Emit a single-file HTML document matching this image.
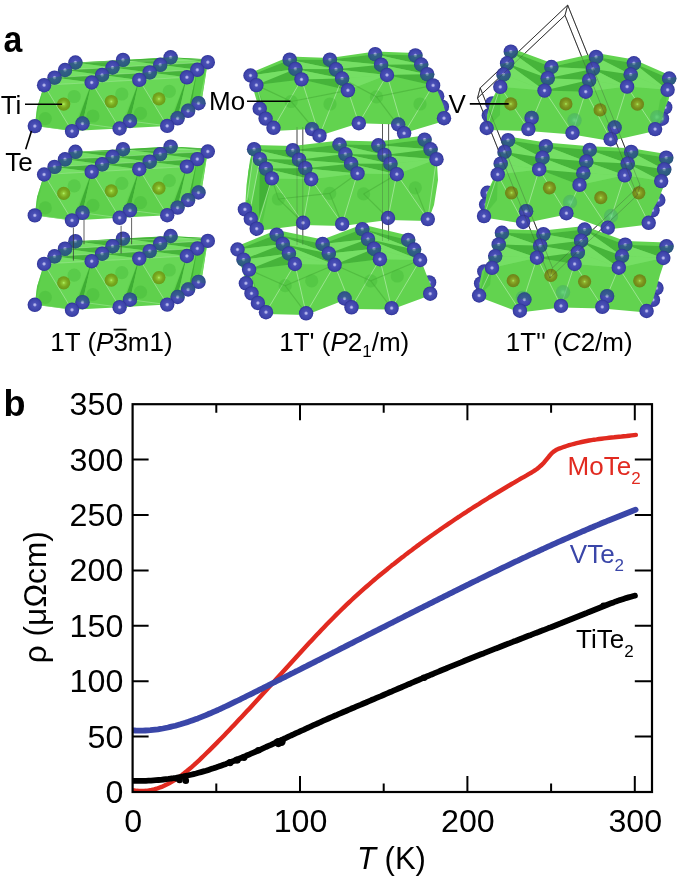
<!DOCTYPE html>
<html><head><meta charset="utf-8"><style>
html,body{margin:0;padding:0;background:#fff;}
svg{display:block;will-change:transform;}
</style></head><body>
<svg width="685" height="878" viewBox="0 0 685 878">
<rect width="685" height="878" fill="#fff"/>
<defs>
<radialGradient id="gte" cx="0.5" cy="0.5" r="0.5">
<stop offset="0" stop-color="#c8c8f4"/><stop offset="0.14" stop-color="#a4a6e4"/><stop offset="0.3" stop-color="#4a50b6"/>
<stop offset="0.8" stop-color="#3d43aa"/><stop offset="1" stop-color="#2e3296"/></radialGradient>
<linearGradient id="gsb" x1="0" y1="0" x2="0.15" y2="1">
<stop offset="0.5" stop-color="#1f6e5e" stop-opacity="0"/><stop offset="0.56" stop-color="#1f6e5e" stop-opacity="0.5"/>
<stop offset="1" stop-color="#1f6e5e" stop-opacity="0.6"/></linearGradient>
<linearGradient id="gst" x1="0.2" y1="0" x2="0" y2="1">
<stop offset="0" stop-color="#1f6e5e" stop-opacity="0.45"/><stop offset="0.4" stop-color="#1f6e5e" stop-opacity="0.35"/>
<stop offset="0.5" stop-color="#1f6e5e" stop-opacity="0"/></linearGradient>
<radialGradient id="gti" cx="0.5" cy="0.5" r="0.5">
<stop offset="0" stop-color="#b4f46c"/><stop offset="0.22" stop-color="#8ec832"/><stop offset="0.6" stop-color="#78a81e"/>
<stop offset="1" stop-color="#6a9a18"/></radialGradient>
<radialGradient id="gv" cx="0.5" cy="0.5" r="0.5">
<stop offset="0" stop-color="#a8ee5c"/><stop offset="0.22" stop-color="#8cae2c"/><stop offset="0.6" stop-color="#7a921c"/>
<stop offset="1" stop-color="#6c8418"/></radialGradient>
<radialGradient id="gtt" cx="0.5" cy="0.5" r="0.5">
<stop offset="0" stop-color="#6fd89a"/><stop offset="0.4" stop-color="#4cb47a"/><stop offset="1" stop-color="#4aae60"/></radialGradient>
<g id="te"><circle r="7.2" fill="url(#gte)"/></g>
<g id="teb"><circle r="7.2" fill="url(#gte)"/><circle r="7.2" fill="url(#gsb)"/></g>
<g id="tet"><circle r="7.2" fill="url(#gte)"/><circle r="7.2" fill="url(#gst)"/></g>
<g id="ti"><circle r="6.6" fill="url(#gti)"/></g>
<g id="hid"><circle r="6.6" fill="#3fb535" opacity="0.35"/></g>
<g id="tth"><circle r="7.2" fill="url(#gtt)" opacity="0.6"/></g>
<g id="v"><circle r="6.6" fill="url(#gv)"/></g>
</defs>
<g transform="translate(0.0,0.0)">
<clipPath id="cl1"><polygon points="44.1,85.2 75.4,62.5 123.0,59.9 170.6,57.3 211.5,59.5 207.8,62.2 205.0,80.0 202.0,99.0 198.5,103.2 188.1,110.8 177.6,118.3 167.2,125.9 119.6,128.5 72.0,131.1 34.8,126.1 37.0,108.0"/></clipPath>
<polygon points="44.1,85.2 75.4,62.5 123.0,59.9 170.6,57.3 211.5,59.5 207.8,62.2 205.0,80.0 202.0,99.0 198.5,103.2 188.1,110.8 177.6,118.3 167.2,125.9 119.6,128.5 72.0,131.1 34.8,126.1 37.0,108.0" fill="#62d34f"/>
<g clip-path="url(#cl1)">
<polygon points="75.4,62.5 123.0,59.9 170.6,57.3 211.5,59.5 186.9,77.3 139.3,79.9 91.7,82.5 44.1,85.2" fill="#6cd95b"/>
<polygon points="75.4,62.5 123.0,59.9 112.5,67.5" fill="#3ba931" opacity="0.78"/>
<polygon points="75.4,62.5 65.0,70.0 112.5,67.5" fill="#79e168" opacity="0.70"/>
<polygon points="65.0,70.0 112.5,67.5 102.1,75.0" fill="#3ba931" opacity="0.78"/>
<polygon points="65.0,70.0 54.5,77.6 102.1,75.0" fill="#79e168" opacity="0.70"/>
<polygon points="54.5,77.6 102.1,75.0 91.7,82.5" fill="#3ba931" opacity="0.78"/>
<polygon points="54.5,77.6 44.1,85.2 91.7,82.5" fill="#79e168" opacity="0.70"/>
<polygon points="123.0,59.9 170.6,57.3 160.2,64.8" fill="#3ba931" opacity="0.78"/>
<polygon points="123.0,59.9 112.5,67.5 160.2,64.8" fill="#79e168" opacity="0.70"/>
<polygon points="112.5,67.5 160.2,64.8 149.7,72.4" fill="#3ba931" opacity="0.78"/>
<polygon points="112.5,67.5 102.1,75.0 149.7,72.4" fill="#79e168" opacity="0.70"/>
<polygon points="102.1,75.0 149.7,72.4 139.3,79.9" fill="#3ba931" opacity="0.78"/>
<polygon points="102.1,75.0 91.7,82.5 139.3,79.9" fill="#79e168" opacity="0.70"/>
<polygon points="170.6,57.3 211.5,59.5 207.8,62.2" fill="#3ba931" opacity="0.78"/>
<polygon points="170.6,57.3 160.2,64.8 207.8,62.2" fill="#79e168" opacity="0.70"/>
<polygon points="160.2,64.8 207.8,62.2 197.3,69.8" fill="#3ba931" opacity="0.78"/>
<polygon points="160.2,64.8 149.7,72.4 197.3,69.8" fill="#79e168" opacity="0.70"/>
<polygon points="149.7,72.4 197.3,69.8 186.9,77.3" fill="#3ba931" opacity="0.78"/>
<polygon points="149.7,72.4 139.3,79.9 186.9,77.3" fill="#79e168" opacity="0.70"/>
<polygon points="44.1,85.2 91.7,82.5 72.0,131.1" fill="#68d756"/>
<polygon points="44.1,85.2 72.0,131.1 34.8,126.1" fill="#5fd04c"/>
<polygon points="91.7,82.5 74.5,130.1 82.5,123.5" fill="#3ba931" opacity="0.90"/>
<polygon points="91.7,82.5 139.3,79.9 119.6,128.5" fill="#68d756"/>
<polygon points="91.7,82.5 119.6,128.5 82.5,123.5" fill="#5fd04c"/>
<polygon points="139.3,79.9 122.1,127.5 130.0,121.0" fill="#3ba931" opacity="0.90"/>
<polygon points="139.3,79.9 186.9,77.3 167.2,125.9" fill="#68d756"/>
<polygon points="139.3,79.9 167.2,125.9 130.0,121.0" fill="#5fd04c"/>
<polygon points="186.9,77.3 169.7,124.9 177.6,118.3" fill="#3ba931" opacity="0.90"/>
<polygon points="44.1,85.2 34.8,126.1 36.0,112.0 39.0,96.0" fill="#4fc341" opacity="0.70"/>
<polygon points="186.9,77.3 197.3,69.8 188.1,110.8 177.6,118.3" fill="#6ad858"/>
<polygon points="197.3,69.8 207.8,62.2 198.5,103.2 188.1,110.8" fill="#58cc47"/>
<polygon points="197.3,69.8 188.1,110.8 191.1,106.8" fill="#3ba931" opacity="0.80"/>
<polygon points="207.8,62.2 205.0,80.0 202.0,99.0 198.5,103.2" fill="#72dc60"/>
<polyline points="44.1,85.2 72.0,131.1" fill="none" stroke="#f0fff0" stroke-width="0.8" opacity="0.45"/>
<polyline points="34.8,126.1 72.0,131.1" fill="none" stroke="#f0fff0" stroke-width="0.8" opacity="0.35"/>
<polyline points="91.7,82.5 119.6,128.5" fill="none" stroke="#f0fff0" stroke-width="0.8" opacity="0.45"/>
<polyline points="82.5,123.5 119.6,128.5" fill="none" stroke="#f0fff0" stroke-width="0.8" opacity="0.35"/>
<polyline points="139.3,79.9 167.2,125.9" fill="none" stroke="#f0fff0" stroke-width="0.8" opacity="0.45"/>
<polyline points="130.0,121.0 167.2,125.9" fill="none" stroke="#f0fff0" stroke-width="0.8" opacity="0.35"/>
<polyline points="75.4,62.5 211.5,59.5" fill="none" stroke="#f0fff0" stroke-width="0.7" opacity="0.35"/>
<polyline points="65.0,70.0 207.8,62.2" fill="none" stroke="#f0fff0" stroke-width="0.7" opacity="0.35"/>
<polyline points="54.5,77.6 197.3,69.8" fill="none" stroke="#f0fff0" stroke-width="0.7" opacity="0.35"/>
<polyline points="44.1,85.2 186.9,77.3" fill="none" stroke="#f0fff0" stroke-width="0.7" opacity="0.35"/>
</g>
<use href="#hid" x="74.2" y="96.5"/>
<use href="#hid" x="121.8" y="94.0"/>
<use href="#hid" x="169.3" y="91.3"/>
<use href="#hid" x="45.3" y="118.6"/>
<use href="#hid" x="92.9" y="116.0"/>
<use href="#hid" x="140.5" y="113.4"/>
<use href="#teb" x="75.4" y="62.5"/>
<use href="#teb" x="123.0" y="59.9"/>
<use href="#teb" x="170.6" y="57.3"/>
<use href="#teb" x="65.0" y="70.0"/>
<use href="#teb" x="112.5" y="67.5"/>
<use href="#teb" x="160.2" y="64.8"/>
<use href="#te" x="207.8" y="62.2"/>
<use href="#teb" x="54.5" y="77.6"/>
<use href="#teb" x="102.1" y="75.0"/>
<use href="#teb" x="149.7" y="72.4"/>
<use href="#te" x="197.3" y="69.8"/>
<use href="#tet" x="198.5" y="103.2"/>
<use href="#tet" x="188.1" y="110.8"/>
<use href="#tet" x="177.6" y="118.3"/>
<use href="#tet" x="130.0" y="121.0"/>
<use href="#tet" x="82.5" y="123.5"/>
<use href="#ti" x="63.7" y="104.1"/>
<use href="#ti" x="111.3" y="101.5"/>
<use href="#ti" x="158.9" y="98.9"/>
<use href="#te" x="44.1" y="85.2"/>
<use href="#te" x="91.7" y="82.5"/>
<use href="#te" x="139.3" y="79.9"/>
<use href="#te" x="186.9" y="77.3"/>
<use href="#te" x="34.8" y="126.1"/>
<use href="#te" x="72.0" y="131.1"/>
<use href="#te" x="119.6" y="128.5"/>
<use href="#te" x="167.2" y="125.9"/>
</g>
<g transform="translate(0.0,89.3)">
<clipPath id="cl2"><polygon points="44.1,85.2 75.4,62.5 123.0,59.9 170.6,57.3 211.5,59.5 207.8,62.2 205.0,80.0 202.0,99.0 198.5,103.2 188.1,110.8 177.6,118.3 167.2,125.9 119.6,128.5 72.0,131.1 34.8,126.1 37.0,108.0"/></clipPath>
<polygon points="44.1,85.2 75.4,62.5 123.0,59.9 170.6,57.3 211.5,59.5 207.8,62.2 205.0,80.0 202.0,99.0 198.5,103.2 188.1,110.8 177.6,118.3 167.2,125.9 119.6,128.5 72.0,131.1 34.8,126.1 37.0,108.0" fill="#62d34f"/>
<g clip-path="url(#cl2)">
<polygon points="75.4,62.5 123.0,59.9 170.6,57.3 211.5,59.5 186.9,77.3 139.3,79.9 91.7,82.5 44.1,85.2" fill="#6cd95b"/>
<polygon points="75.4,62.5 123.0,59.9 112.5,67.5" fill="#3ba931" opacity="0.78"/>
<polygon points="75.4,62.5 65.0,70.0 112.5,67.5" fill="#79e168" opacity="0.70"/>
<polygon points="65.0,70.0 112.5,67.5 102.1,75.0" fill="#3ba931" opacity="0.78"/>
<polygon points="65.0,70.0 54.5,77.6 102.1,75.0" fill="#79e168" opacity="0.70"/>
<polygon points="54.5,77.6 102.1,75.0 91.7,82.5" fill="#3ba931" opacity="0.78"/>
<polygon points="54.5,77.6 44.1,85.2 91.7,82.5" fill="#79e168" opacity="0.70"/>
<polygon points="123.0,59.9 170.6,57.3 160.2,64.8" fill="#3ba931" opacity="0.78"/>
<polygon points="123.0,59.9 112.5,67.5 160.2,64.8" fill="#79e168" opacity="0.70"/>
<polygon points="112.5,67.5 160.2,64.8 149.7,72.4" fill="#3ba931" opacity="0.78"/>
<polygon points="112.5,67.5 102.1,75.0 149.7,72.4" fill="#79e168" opacity="0.70"/>
<polygon points="102.1,75.0 149.7,72.4 139.3,79.9" fill="#3ba931" opacity="0.78"/>
<polygon points="102.1,75.0 91.7,82.5 139.3,79.9" fill="#79e168" opacity="0.70"/>
<polygon points="170.6,57.3 211.5,59.5 207.8,62.2" fill="#3ba931" opacity="0.78"/>
<polygon points="170.6,57.3 160.2,64.8 207.8,62.2" fill="#79e168" opacity="0.70"/>
<polygon points="160.2,64.8 207.8,62.2 197.3,69.8" fill="#3ba931" opacity="0.78"/>
<polygon points="160.2,64.8 149.7,72.4 197.3,69.8" fill="#79e168" opacity="0.70"/>
<polygon points="149.7,72.4 197.3,69.8 186.9,77.3" fill="#3ba931" opacity="0.78"/>
<polygon points="149.7,72.4 139.3,79.9 186.9,77.3" fill="#79e168" opacity="0.70"/>
<polygon points="44.1,85.2 91.7,82.5 72.0,131.1" fill="#68d756"/>
<polygon points="44.1,85.2 72.0,131.1 34.8,126.1" fill="#5fd04c"/>
<polygon points="91.7,82.5 74.5,130.1 82.5,123.5" fill="#3ba931" opacity="0.90"/>
<polygon points="91.7,82.5 139.3,79.9 119.6,128.5" fill="#68d756"/>
<polygon points="91.7,82.5 119.6,128.5 82.5,123.5" fill="#5fd04c"/>
<polygon points="139.3,79.9 122.1,127.5 130.0,121.0" fill="#3ba931" opacity="0.90"/>
<polygon points="139.3,79.9 186.9,77.3 167.2,125.9" fill="#68d756"/>
<polygon points="139.3,79.9 167.2,125.9 130.0,121.0" fill="#5fd04c"/>
<polygon points="186.9,77.3 169.7,124.9 177.6,118.3" fill="#3ba931" opacity="0.90"/>
<polygon points="44.1,85.2 34.8,126.1 36.0,112.0 39.0,96.0" fill="#4fc341" opacity="0.70"/>
<polygon points="186.9,77.3 197.3,69.8 188.1,110.8 177.6,118.3" fill="#6ad858"/>
<polygon points="197.3,69.8 207.8,62.2 198.5,103.2 188.1,110.8" fill="#58cc47"/>
<polygon points="197.3,69.8 188.1,110.8 191.1,106.8" fill="#3ba931" opacity="0.80"/>
<polygon points="207.8,62.2 205.0,80.0 202.0,99.0 198.5,103.2" fill="#72dc60"/>
<polyline points="44.1,85.2 72.0,131.1" fill="none" stroke="#f0fff0" stroke-width="0.8" opacity="0.45"/>
<polyline points="34.8,126.1 72.0,131.1" fill="none" stroke="#f0fff0" stroke-width="0.8" opacity="0.35"/>
<polyline points="91.7,82.5 119.6,128.5" fill="none" stroke="#f0fff0" stroke-width="0.8" opacity="0.45"/>
<polyline points="82.5,123.5 119.6,128.5" fill="none" stroke="#f0fff0" stroke-width="0.8" opacity="0.35"/>
<polyline points="139.3,79.9 167.2,125.9" fill="none" stroke="#f0fff0" stroke-width="0.8" opacity="0.45"/>
<polyline points="130.0,121.0 167.2,125.9" fill="none" stroke="#f0fff0" stroke-width="0.8" opacity="0.35"/>
<polyline points="75.4,62.5 211.5,59.5" fill="none" stroke="#f0fff0" stroke-width="0.7" opacity="0.35"/>
<polyline points="65.0,70.0 207.8,62.2" fill="none" stroke="#f0fff0" stroke-width="0.7" opacity="0.35"/>
<polyline points="54.5,77.6 197.3,69.8" fill="none" stroke="#f0fff0" stroke-width="0.7" opacity="0.35"/>
<polyline points="44.1,85.2 186.9,77.3" fill="none" stroke="#f0fff0" stroke-width="0.7" opacity="0.35"/>
</g>
<use href="#hid" x="74.2" y="96.5"/>
<use href="#hid" x="121.8" y="94.0"/>
<use href="#hid" x="169.3" y="91.3"/>
<use href="#hid" x="45.3" y="118.6"/>
<use href="#hid" x="92.9" y="116.0"/>
<use href="#hid" x="140.5" y="113.4"/>
<use href="#teb" x="75.4" y="62.5"/>
<use href="#teb" x="123.0" y="59.9"/>
<use href="#teb" x="170.6" y="57.3"/>
<use href="#teb" x="65.0" y="70.0"/>
<use href="#teb" x="112.5" y="67.5"/>
<use href="#teb" x="160.2" y="64.8"/>
<use href="#te" x="207.8" y="62.2"/>
<use href="#teb" x="54.5" y="77.6"/>
<use href="#teb" x="102.1" y="75.0"/>
<use href="#teb" x="149.7" y="72.4"/>
<use href="#te" x="197.3" y="69.8"/>
<use href="#tet" x="198.5" y="103.2"/>
<use href="#tet" x="188.1" y="110.8"/>
<use href="#tet" x="177.6" y="118.3"/>
<use href="#tet" x="130.0" y="121.0"/>
<use href="#tet" x="82.5" y="123.5"/>
<use href="#ti" x="63.7" y="104.1"/>
<use href="#ti" x="111.3" y="101.5"/>
<use href="#ti" x="158.9" y="98.9"/>
<use href="#te" x="44.1" y="85.2"/>
<use href="#te" x="91.7" y="82.5"/>
<use href="#te" x="139.3" y="79.9"/>
<use href="#te" x="186.9" y="77.3"/>
<use href="#te" x="34.8" y="126.1"/>
<use href="#te" x="72.0" y="131.1"/>
<use href="#te" x="119.6" y="128.5"/>
<use href="#te" x="167.2" y="125.9"/>
</g>
<g transform="translate(0.0,178.7)">
<clipPath id="cl3"><polygon points="44.1,85.2 75.4,62.5 123.0,59.9 170.6,57.3 211.5,59.5 207.8,62.2 205.0,80.0 202.0,99.0 198.5,103.2 188.1,110.8 177.6,118.3 167.2,125.9 119.6,128.5 72.0,131.1 34.8,126.1 37.0,108.0"/></clipPath>
<polygon points="44.1,85.2 75.4,62.5 123.0,59.9 170.6,57.3 211.5,59.5 207.8,62.2 205.0,80.0 202.0,99.0 198.5,103.2 188.1,110.8 177.6,118.3 167.2,125.9 119.6,128.5 72.0,131.1 34.8,126.1 37.0,108.0" fill="#62d34f"/>
<g clip-path="url(#cl3)">
<polygon points="75.4,62.5 123.0,59.9 170.6,57.3 211.5,59.5 186.9,77.3 139.3,79.9 91.7,82.5 44.1,85.2" fill="#6cd95b"/>
<polygon points="75.4,62.5 123.0,59.9 112.5,67.5" fill="#3ba931" opacity="0.78"/>
<polygon points="75.4,62.5 65.0,70.0 112.5,67.5" fill="#79e168" opacity="0.70"/>
<polygon points="65.0,70.0 112.5,67.5 102.1,75.0" fill="#3ba931" opacity="0.78"/>
<polygon points="65.0,70.0 54.5,77.6 102.1,75.0" fill="#79e168" opacity="0.70"/>
<polygon points="54.5,77.6 102.1,75.0 91.7,82.5" fill="#3ba931" opacity="0.78"/>
<polygon points="54.5,77.6 44.1,85.2 91.7,82.5" fill="#79e168" opacity="0.70"/>
<polygon points="123.0,59.9 170.6,57.3 160.2,64.8" fill="#3ba931" opacity="0.78"/>
<polygon points="123.0,59.9 112.5,67.5 160.2,64.8" fill="#79e168" opacity="0.70"/>
<polygon points="112.5,67.5 160.2,64.8 149.7,72.4" fill="#3ba931" opacity="0.78"/>
<polygon points="112.5,67.5 102.1,75.0 149.7,72.4" fill="#79e168" opacity="0.70"/>
<polygon points="102.1,75.0 149.7,72.4 139.3,79.9" fill="#3ba931" opacity="0.78"/>
<polygon points="102.1,75.0 91.7,82.5 139.3,79.9" fill="#79e168" opacity="0.70"/>
<polygon points="170.6,57.3 211.5,59.5 207.8,62.2" fill="#3ba931" opacity="0.78"/>
<polygon points="170.6,57.3 160.2,64.8 207.8,62.2" fill="#79e168" opacity="0.70"/>
<polygon points="160.2,64.8 207.8,62.2 197.3,69.8" fill="#3ba931" opacity="0.78"/>
<polygon points="160.2,64.8 149.7,72.4 197.3,69.8" fill="#79e168" opacity="0.70"/>
<polygon points="149.7,72.4 197.3,69.8 186.9,77.3" fill="#3ba931" opacity="0.78"/>
<polygon points="149.7,72.4 139.3,79.9 186.9,77.3" fill="#79e168" opacity="0.70"/>
<polygon points="44.1,85.2 91.7,82.5 72.0,131.1" fill="#68d756"/>
<polygon points="44.1,85.2 72.0,131.1 34.8,126.1" fill="#5fd04c"/>
<polygon points="91.7,82.5 74.5,130.1 82.5,123.5" fill="#3ba931" opacity="0.90"/>
<polygon points="91.7,82.5 139.3,79.9 119.6,128.5" fill="#68d756"/>
<polygon points="91.7,82.5 119.6,128.5 82.5,123.5" fill="#5fd04c"/>
<polygon points="139.3,79.9 122.1,127.5 130.0,121.0" fill="#3ba931" opacity="0.90"/>
<polygon points="139.3,79.9 186.9,77.3 167.2,125.9" fill="#68d756"/>
<polygon points="139.3,79.9 167.2,125.9 130.0,121.0" fill="#5fd04c"/>
<polygon points="186.9,77.3 169.7,124.9 177.6,118.3" fill="#3ba931" opacity="0.90"/>
<polygon points="44.1,85.2 34.8,126.1 36.0,112.0 39.0,96.0" fill="#4fc341" opacity="0.70"/>
<polygon points="186.9,77.3 197.3,69.8 188.1,110.8 177.6,118.3" fill="#6ad858"/>
<polygon points="197.3,69.8 207.8,62.2 198.5,103.2 188.1,110.8" fill="#58cc47"/>
<polygon points="197.3,69.8 188.1,110.8 191.1,106.8" fill="#3ba931" opacity="0.80"/>
<polygon points="207.8,62.2 205.0,80.0 202.0,99.0 198.5,103.2" fill="#72dc60"/>
<polyline points="44.1,85.2 72.0,131.1" fill="none" stroke="#f0fff0" stroke-width="0.8" opacity="0.45"/>
<polyline points="34.8,126.1 72.0,131.1" fill="none" stroke="#f0fff0" stroke-width="0.8" opacity="0.35"/>
<polyline points="91.7,82.5 119.6,128.5" fill="none" stroke="#f0fff0" stroke-width="0.8" opacity="0.45"/>
<polyline points="82.5,123.5 119.6,128.5" fill="none" stroke="#f0fff0" stroke-width="0.8" opacity="0.35"/>
<polyline points="139.3,79.9 167.2,125.9" fill="none" stroke="#f0fff0" stroke-width="0.8" opacity="0.45"/>
<polyline points="130.0,121.0 167.2,125.9" fill="none" stroke="#f0fff0" stroke-width="0.8" opacity="0.35"/>
<polyline points="75.4,62.5 211.5,59.5" fill="none" stroke="#f0fff0" stroke-width="0.7" opacity="0.35"/>
<polyline points="65.0,70.0 207.8,62.2" fill="none" stroke="#f0fff0" stroke-width="0.7" opacity="0.35"/>
<polyline points="54.5,77.6 197.3,69.8" fill="none" stroke="#f0fff0" stroke-width="0.7" opacity="0.35"/>
<polyline points="44.1,85.2 186.9,77.3" fill="none" stroke="#f0fff0" stroke-width="0.7" opacity="0.35"/>
</g>
<use href="#hid" x="74.2" y="96.5"/>
<use href="#hid" x="121.8" y="94.0"/>
<use href="#hid" x="169.3" y="91.3"/>
<use href="#hid" x="45.3" y="118.6"/>
<use href="#hid" x="92.9" y="116.0"/>
<use href="#hid" x="140.5" y="113.4"/>
<use href="#teb" x="75.4" y="62.5"/>
<use href="#teb" x="123.0" y="59.9"/>
<use href="#teb" x="170.6" y="57.3"/>
<use href="#teb" x="65.0" y="70.0"/>
<use href="#teb" x="112.5" y="67.5"/>
<use href="#teb" x="160.2" y="64.8"/>
<use href="#te" x="207.8" y="62.2"/>
<use href="#teb" x="54.5" y="77.6"/>
<use href="#teb" x="102.1" y="75.0"/>
<use href="#teb" x="149.7" y="72.4"/>
<use href="#te" x="197.3" y="69.8"/>
<use href="#tet" x="198.5" y="103.2"/>
<use href="#tet" x="188.1" y="110.8"/>
<use href="#tet" x="177.6" y="118.3"/>
<use href="#tet" x="130.0" y="121.0"/>
<use href="#tet" x="82.5" y="123.5"/>
<use href="#ti" x="63.7" y="104.1"/>
<use href="#ti" x="111.3" y="101.5"/>
<use href="#ti" x="158.9" y="98.9"/>
<use href="#te" x="44.1" y="85.2"/>
<use href="#te" x="91.7" y="82.5"/>
<use href="#te" x="139.3" y="79.9"/>
<use href="#te" x="186.9" y="77.3"/>
<use href="#te" x="34.8" y="126.1"/>
<use href="#te" x="72.0" y="131.1"/>
<use href="#te" x="119.6" y="128.5"/>
<use href="#te" x="167.2" y="125.9"/>
</g>
<path d="M73.4,227.5V260.6M84,220V244.2M121.1,225.8V253.4M131.6,218V244.2" stroke="#333" stroke-width="0.9" opacity="0.85"/>
<path d="M297,127V152M302.8,127V152M382.5,124V148M388.6,124V148M297,218V242M302.8,218V242M382.5,214V238M388.6,214V238" stroke="#333" stroke-width="0.9" opacity="0.85"/>
<g transform="translate(0.0,0.0)">
<clipPath id="cl4"><polygon points="248.0,74.0 289.7,56.5 330.0,58.0 375.2,51.5 415.4,53.0 425.0,62.0 433.1,80.0 438.0,92.0 443.0,104.0 447.0,117.0 441.0,122.0 411.0,131.0 404.1,133.3 398.2,124.5 358.8,123.2 325.0,134.0 319.5,135.7 312.0,129.1 273.5,131.0 265.6,121.0 259.7,111.0 253.5,90.0"/></clipPath>
<use href="#te" x="437.2" y="96.2"/>
<use href="#te" x="441.9" y="106.7"/>
<polygon points="248.0,74.0 289.7,56.5 330.0,58.0 375.2,51.5 415.4,53.0 425.0,62.0 433.1,80.0 438.0,92.0 443.0,104.0 447.0,117.0 441.0,122.0 411.0,131.0 404.1,133.3 398.2,124.5 358.8,123.2 325.0,134.0 319.5,135.7 312.0,129.1 273.5,131.0 265.6,121.0 259.7,111.0 253.5,90.0" fill="#62d34f"/>
<g clip-path="url(#cl4)">
<polygon points="250.5,75.5 289.7,59.7 329.9,59.7 375.2,54.2 415.4,55.4 433.1,85.4 387.0,75.0 347.9,90.3 301.5,79.4 256.4,85.1" fill="#6cd95b"/>
<polygon points="250.5,75.5 289.7,59.7 295.4,68.9" fill="#3ba931" opacity="0.78"/>
<polygon points="250.5,75.5 256.4,85.1 295.4,68.9" fill="#79e168" opacity="0.70"/>
<polygon points="256.4,85.1 295.4,68.9 301.5,79.4" fill="#3ba931" opacity="0.78"/>
<polygon points="289.7,59.7 329.9,59.7 336.0,69.3" fill="#3ba931" opacity="0.78"/>
<polygon points="289.7,59.7 295.4,68.9 336.0,69.3" fill="#79e168" opacity="0.70"/>
<polygon points="295.4,68.9 336.0,69.3 342.1,78.5" fill="#3ba931" opacity="0.78"/>
<polygon points="295.4,68.9 301.5,79.4 342.1,78.5" fill="#79e168" opacity="0.70"/>
<polygon points="301.5,79.4 342.1,78.5 347.9,90.3" fill="#3ba931" opacity="0.78"/>
<polygon points="329.9,59.7 375.2,54.2 381.1,64.7" fill="#3ba931" opacity="0.78"/>
<polygon points="329.9,59.7 336.0,69.3 381.1,64.7" fill="#79e168" opacity="0.70"/>
<polygon points="336.0,69.3 381.1,64.7 387.0,75.0" fill="#3ba931" opacity="0.78"/>
<polygon points="336.0,69.3 342.1,78.5 387.0,75.0" fill="#79e168" opacity="0.70"/>
<polygon points="342.1,78.5 347.9,90.3 387.0,75.0" fill="#79e168" opacity="0.70"/>
<polygon points="375.2,54.2 415.4,55.4 421.2,64.5" fill="#3ba931" opacity="0.78"/>
<polygon points="375.2,54.2 381.1,64.7 421.2,64.5" fill="#79e168" opacity="0.70"/>
<polygon points="381.1,64.7 421.2,64.5 427.2,74.2" fill="#3ba931" opacity="0.78"/>
<polygon points="381.1,64.7 387.0,75.0 427.2,74.2" fill="#79e168" opacity="0.70"/>
<polygon points="387.0,75.0 427.2,74.2 433.1,85.4" fill="#3ba931" opacity="0.78"/>
<polygon points="256.4,85.1 259.7,108.7 265.6,118.6 262.0,100.0" fill="#4fc341" opacity="0.80"/>
<polyline points="301.5,79.4 273.5,127.8" fill="none" stroke="#f0fff0" stroke-width="0.8" opacity="0.50"/>
<polyline points="301.5,79.4 319.5,135.7" fill="none" stroke="#f0fff0" stroke-width="0.8" opacity="0.50"/>
<polyline points="347.9,90.3 358.8,123.2" fill="none" stroke="#f0fff0" stroke-width="0.8" opacity="0.50"/>
<polyline points="387.0,75.0 358.8,123.2" fill="none" stroke="#f0fff0" stroke-width="0.8" opacity="0.50"/>
<polyline points="387.0,75.0 404.1,133.3" fill="none" stroke="#f0fff0" stroke-width="0.8" opacity="0.50"/>
<polyline points="433.1,85.4 404.1,133.3" fill="none" stroke="#f0fff0" stroke-width="0.8" opacity="0.50"/>
<polyline points="256.4,85.1 265.6,118.6" fill="none" stroke="#f0fff0" stroke-width="0.8" opacity="0.50"/>
<polyline points="342.1,78.5 319.5,135.7" fill="none" stroke="#f0fff0" stroke-width="0.8" opacity="0.50"/>
<polyline points="256.4,85.1 291.2,101.5 319.5,135.7" fill="none" stroke="#2f8a22" stroke-width="1.2" opacity="0.30"/>
<polyline points="291.2,101.5 347.9,90.3" fill="none" stroke="#2f8a22" stroke-width="1.2" opacity="0.30"/>
<polyline points="376.5,96.9 404.1,133.3" fill="none" stroke="#2f8a22" stroke-width="1.2" opacity="0.30"/>
<polyline points="342.1,78.5 376.5,96.9 433.1,85.4" fill="none" stroke="#2f8a22" stroke-width="1.2" opacity="0.30"/>
</g>
<use href="#hid" x="291.2" y="101.5"/>
<use href="#hid" x="376.5" y="96.9"/>
<use href="#hid" x="330.0" y="104.0"/>
<use href="#hid" x="420.0" y="104.0"/>
<use href="#te" x="250.5" y="75.5"/>
<use href="#teb" x="289.7" y="59.7"/>
<use href="#teb" x="295.4" y="68.9"/>
<use href="#teb" x="329.9" y="59.7"/>
<use href="#teb" x="336.0" y="69.3"/>
<use href="#teb" x="342.1" y="78.5"/>
<use href="#teb" x="375.2" y="54.2"/>
<use href="#teb" x="381.1" y="64.7"/>
<use href="#teb" x="415.4" y="55.4"/>
<use href="#teb" x="421.2" y="64.5"/>
<use href="#teb" x="427.2" y="74.2"/>
<use href="#tet" x="312.0" y="129.1"/>
<use href="#tet" x="398.2" y="124.5"/>
<use href="#te" x="256.4" y="85.1"/>
<use href="#te" x="301.5" y="79.4"/>
<use href="#te" x="347.9" y="90.3"/>
<use href="#te" x="387.0" y="75.0"/>
<use href="#te" x="433.1" y="85.4"/>
<use href="#te" x="259.7" y="108.7"/>
<use href="#te" x="265.6" y="118.6"/>
<use href="#te" x="273.5" y="127.8"/>
<use href="#te" x="319.5" y="135.7"/>
<use href="#te" x="358.8" y="123.2"/>
<use href="#te" x="404.1" y="133.3"/>
<use href="#te" x="444.0" y="118.2"/>
</g>
<g transform="translate(0.0,0.0)">
<clipPath id="cl5"><polygon points="254.1,145.0 292.8,146.0 339.5,140.5 378.4,141.5 424.6,135.5 436.5,155.0 438.0,180.0 434.0,205.0 430.0,216.0 427.8,221.0 388.0,220.0 342.2,226.0 303.1,225.0 256.7,231.0 244.9,211.0 246.5,185.0 250.0,160.0"/></clipPath>
<polygon points="254.1,145.0 292.8,146.0 339.5,140.5 378.4,141.5 424.6,135.5 436.5,155.0 438.0,180.0 434.0,205.0 430.0,216.0 427.8,221.0 388.0,220.0 342.2,226.0 303.1,225.0 256.7,231.0 244.9,211.0 246.5,185.0 250.0,160.0" fill="#62d34f"/>
<g clip-path="url(#cl5)">
<polygon points="254.1,149.2 292.8,150.2 339.5,144.5 378.4,145.3 424.6,139.6 436.5,159.2 396.8,174.2 357.5,173.4 311.2,179.2 271.8,178.4" fill="#6cd95b"/>
<polygon points="254.1,149.2 292.8,150.2 299.1,159.7" fill="#3ba931" opacity="0.78"/>
<polygon points="254.1,149.2 260.0,159.1 299.1,159.7" fill="#79e168" opacity="0.70"/>
<polygon points="260.0,159.1 299.1,159.7 305.3,168.2" fill="#3ba931" opacity="0.78"/>
<polygon points="260.0,159.1 265.9,168.6 305.3,168.2" fill="#79e168" opacity="0.70"/>
<polygon points="265.9,168.6 305.3,168.2 311.2,179.2" fill="#3ba931" opacity="0.78"/>
<polygon points="265.9,168.6 271.8,178.4 311.2,179.2" fill="#79e168" opacity="0.70"/>
<polygon points="292.8,150.2 339.5,144.5 345.4,154.1" fill="#3ba931" opacity="0.78"/>
<polygon points="292.8,150.2 299.1,159.7 345.4,154.1" fill="#79e168" opacity="0.70"/>
<polygon points="299.1,159.7 345.4,154.1 351.1,163.7" fill="#3ba931" opacity="0.78"/>
<polygon points="299.1,159.7 305.3,168.2 351.1,163.7" fill="#79e168" opacity="0.70"/>
<polygon points="305.3,168.2 351.1,163.7 357.5,173.4" fill="#3ba931" opacity="0.78"/>
<polygon points="305.3,168.2 311.2,179.2 357.5,173.4" fill="#79e168" opacity="0.70"/>
<polygon points="339.5,144.5 378.4,145.3 384.5,154.9" fill="#3ba931" opacity="0.78"/>
<polygon points="339.5,144.5 345.4,154.1 384.5,154.9" fill="#79e168" opacity="0.70"/>
<polygon points="345.4,154.1 384.5,154.9 390.4,163.7" fill="#3ba931" opacity="0.78"/>
<polygon points="345.4,154.1 351.1,163.7 390.4,163.7" fill="#79e168" opacity="0.70"/>
<polygon points="351.1,163.7 390.4,163.7 396.8,174.2" fill="#3ba931" opacity="0.78"/>
<polygon points="351.1,163.7 357.5,173.4 396.8,174.2" fill="#79e168" opacity="0.70"/>
<polygon points="378.4,145.3 424.6,139.6 430.6,149.3" fill="#3ba931" opacity="0.78"/>
<polygon points="378.4,145.3 384.5,154.9 430.6,149.3" fill="#79e168" opacity="0.70"/>
<polygon points="384.5,154.9 430.6,149.3 436.5,159.2" fill="#3ba931" opacity="0.78"/>
<polygon points="384.5,154.9 390.4,163.7 436.5,159.2" fill="#79e168" opacity="0.70"/>
<polygon points="390.4,163.7 396.8,174.2 436.5,159.2" fill="#79e168" opacity="0.70"/>
<polygon points="254.1,149.2 271.8,178.4 262.0,225.0 247.0,205.0 248.0,170.0" fill="#55c945"/>
<polygon points="260.0,159.1 271.8,178.4 259.0,216.0" fill="#3ba931" opacity="0.75"/>
<polygon points="254.1,149.2 260.0,159.1 252.0,205.0 247.0,195.0" fill="#6cd95b" opacity="0.80"/>
<polyline points="271.8,178.4 256.7,228.7" fill="none" stroke="#f0fff0" stroke-width="0.8" opacity="0.50"/>
<polyline points="311.2,179.2 303.1,222.8" fill="none" stroke="#f0fff0" stroke-width="0.8" opacity="0.50"/>
<polyline points="311.2,179.2 342.2,223.9" fill="none" stroke="#f0fff0" stroke-width="0.8" opacity="0.50"/>
<polyline points="357.5,173.4 342.2,223.9" fill="none" stroke="#f0fff0" stroke-width="0.8" opacity="0.50"/>
<polyline points="396.8,174.2 388.0,218.0" fill="none" stroke="#f0fff0" stroke-width="0.8" opacity="0.50"/>
<polyline points="396.8,174.2 427.8,219.1" fill="none" stroke="#f0fff0" stroke-width="0.8" opacity="0.50"/>
<polyline points="436.5,159.2 427.8,219.1" fill="none" stroke="#f0fff0" stroke-width="0.8" opacity="0.50"/>
<polyline points="271.8,178.4 303.1,222.8" fill="none" stroke="#f0fff0" stroke-width="0.8" opacity="0.50"/>
<polyline points="254.1,149.2 247.0,200.0" fill="none" stroke="#f0fff0" stroke-width="0.8" opacity="0.50"/>
<polyline points="260.0,159.1 250.0,210.0" fill="none" stroke="#f0fff0" stroke-width="0.8" opacity="0.50"/>
<polyline points="271.8,178.4 278.4,199.0 303.1,222.8" fill="none" stroke="#2f8a22" stroke-width="1.2" opacity="0.30"/>
<polyline points="278.4,199.0 329.7,193.4 357.5,173.4" fill="none" stroke="#2f8a22" stroke-width="1.2" opacity="0.30"/>
<polyline points="329.7,193.4 342.2,223.9" fill="none" stroke="#2f8a22" stroke-width="1.2" opacity="0.30"/>
<polyline points="363.6,193.9 396.8,174.2" fill="none" stroke="#2f8a22" stroke-width="1.2" opacity="0.30"/>
<polyline points="363.6,193.9 388.0,218.0" fill="none" stroke="#2f8a22" stroke-width="1.2" opacity="0.30"/>
<polyline points="415.3,187.8 427.8,219.1" fill="none" stroke="#2f8a22" stroke-width="1.2" opacity="0.30"/>
</g>
<use href="#hid" x="278.4" y="199.0"/>
<use href="#hid" x="329.7" y="193.4"/>
<use href="#hid" x="363.6" y="193.9"/>
<use href="#hid" x="415.3" y="187.8"/>
<use href="#teb" x="254.1" y="149.2"/>
<use href="#teb" x="260.0" y="159.1"/>
<use href="#teb" x="265.9" y="168.6"/>
<use href="#teb" x="292.8" y="150.2"/>
<use href="#teb" x="299.1" y="159.7"/>
<use href="#teb" x="305.3" y="168.2"/>
<use href="#teb" x="339.5" y="144.5"/>
<use href="#teb" x="345.4" y="154.1"/>
<use href="#teb" x="351.1" y="163.7"/>
<use href="#teb" x="378.4" y="145.3"/>
<use href="#teb" x="384.5" y="154.9"/>
<use href="#teb" x="390.4" y="163.7"/>
<use href="#teb" x="424.6" y="139.6"/>
<use href="#teb" x="430.6" y="149.3"/>
<use href="#te" x="271.8" y="178.4"/>
<use href="#te" x="311.2" y="179.2"/>
<use href="#te" x="357.5" y="173.4"/>
<use href="#te" x="396.8" y="174.2"/>
<use href="#te" x="436.5" y="159.2"/>
<use href="#te" x="244.9" y="209.4"/>
<use href="#te" x="250.8" y="218.8"/>
<use href="#te" x="256.7" y="228.7"/>
<use href="#te" x="303.1" y="222.8"/>
<use href="#te" x="342.2" y="223.9"/>
<use href="#te" x="388.0" y="218.0"/>
<use href="#te" x="427.8" y="219.1"/>
</g>
<g transform="translate(0.0,0.0)">
<clipPath id="cl6"><polygon points="235.0,247.0 276.7,230.0 322.6,239.5 362.3,224.5 408.2,235.5 420.1,258.0 427.0,276.0 432.0,288.0 431.0,295.0 391.6,309.5 351.5,309.0 344.6,300.0 306.1,315.0 266.0,314.0 257.9,304.0 251.5,294.0 245.9,284.0 244.0,275.0"/></clipPath>
<use href="#te" x="429.1" y="282.4"/>
<polygon points="235.0,247.0 276.7,230.0 322.6,239.5 362.3,224.5 408.2,235.5 420.1,258.0 427.0,276.0 432.0,288.0 431.0,295.0 391.6,309.5 351.5,309.0 344.6,300.0 306.1,315.0 266.0,314.0 257.9,304.0 251.5,294.0 245.9,284.0 244.0,275.0" fill="#62d34f"/>
<g clip-path="url(#cl6)">
<polygon points="237.5,249.5 276.7,234.6 322.6,243.9 362.3,229.1 408.2,239.9 420.1,260.0 379.9,259.2 334.6,264.8 294.9,264.0 249.1,269.6" fill="#6cd95b"/>
<polygon points="237.5,249.5 276.7,234.6 282.8,243.9" fill="#3ba931" opacity="0.78"/>
<polygon points="237.5,249.5 243.5,259.6 282.8,243.9" fill="#79e168" opacity="0.70"/>
<polygon points="243.5,259.6 282.8,243.9 288.9,253.5" fill="#3ba931" opacity="0.78"/>
<polygon points="243.5,259.6 249.1,269.6 288.9,253.5" fill="#79e168" opacity="0.70"/>
<polygon points="249.1,269.6 288.9,253.5 294.9,264.0" fill="#3ba931" opacity="0.78"/>
<polygon points="276.7,234.6 322.6,243.9 328.8,253.5" fill="#3ba931" opacity="0.78"/>
<polygon points="276.7,234.6 282.8,243.9 328.8,253.5" fill="#79e168" opacity="0.70"/>
<polygon points="282.8,243.9 328.8,253.5 334.6,264.8" fill="#3ba931" opacity="0.78"/>
<polygon points="282.8,243.9 288.9,253.5 334.6,264.8" fill="#79e168" opacity="0.70"/>
<polygon points="288.9,253.5 294.9,264.0 334.6,264.8" fill="#79e168" opacity="0.70"/>
<polygon points="322.6,243.9 362.3,229.1 368.0,239.1" fill="#3ba931" opacity="0.78"/>
<polygon points="322.6,243.9 328.8,253.5 368.0,239.1" fill="#79e168" opacity="0.70"/>
<polygon points="328.8,253.5 368.0,239.1 374.0,248.7" fill="#3ba931" opacity="0.78"/>
<polygon points="328.8,253.5 334.6,264.8 374.0,248.7" fill="#79e168" opacity="0.70"/>
<polygon points="334.6,264.8 374.0,248.7 379.9,259.2" fill="#3ba931" opacity="0.78"/>
<polygon points="362.3,229.1 408.2,239.9 414.1,249.5" fill="#3ba931" opacity="0.78"/>
<polygon points="362.3,229.1 368.0,239.1 414.1,249.5" fill="#79e168" opacity="0.70"/>
<polygon points="368.0,239.1 414.1,249.5 420.1,260.0" fill="#3ba931" opacity="0.78"/>
<polygon points="368.0,239.1 374.0,248.7 420.1,260.0" fill="#79e168" opacity="0.70"/>
<polygon points="374.0,248.7 379.9,259.2 420.1,260.0" fill="#79e168" opacity="0.70"/>
<polygon points="249.1,269.6 245.9,283.3 257.9,303.0 255.0,285.0" fill="#4fc341" opacity="0.80"/>
<polyline points="294.9,264.0 266.0,312.2" fill="none" stroke="#f0fff0" stroke-width="0.8" opacity="0.50"/>
<polyline points="294.9,264.0 306.1,313.3" fill="none" stroke="#f0fff0" stroke-width="0.8" opacity="0.50"/>
<polyline points="334.6,264.8 351.5,307.3" fill="none" stroke="#f0fff0" stroke-width="0.8" opacity="0.50"/>
<polyline points="379.9,259.2 351.5,307.3" fill="none" stroke="#f0fff0" stroke-width="0.8" opacity="0.50"/>
<polyline points="379.9,259.2 391.6,308.1" fill="none" stroke="#f0fff0" stroke-width="0.8" opacity="0.50"/>
<polyline points="420.1,260.0 391.6,308.1" fill="none" stroke="#f0fff0" stroke-width="0.8" opacity="0.50"/>
<polyline points="249.1,269.6 257.9,303.0" fill="none" stroke="#f0fff0" stroke-width="0.8" opacity="0.50"/>
<polyline points="334.6,264.8 306.1,313.3" fill="none" stroke="#f0fff0" stroke-width="0.8" opacity="0.50"/>
<polyline points="249.1,269.6 285.2,285.7 306.1,313.3" fill="none" stroke="#2f8a22" stroke-width="1.2" opacity="0.30"/>
<polyline points="285.2,285.7 334.6,264.8" fill="none" stroke="#2f8a22" stroke-width="1.2" opacity="0.30"/>
<polyline points="370.8,280.8 391.6,308.1" fill="none" stroke="#2f8a22" stroke-width="1.2" opacity="0.30"/>
<polyline points="334.6,264.8 370.8,280.8 420.1,260.0" fill="none" stroke="#2f8a22" stroke-width="1.2" opacity="0.30"/>
</g>
<use href="#hid" x="285.2" y="285.7"/>
<use href="#hid" x="311.7" y="280.8"/>
<use href="#hid" x="370.8" y="280.8"/>
<use href="#hid" x="397.3" y="276.0"/>
<use href="#te" x="237.5" y="249.5"/>
<use href="#teb" x="243.5" y="259.6"/>
<use href="#teb" x="276.7" y="234.6"/>
<use href="#teb" x="282.8" y="243.9"/>
<use href="#teb" x="288.9" y="253.5"/>
<use href="#teb" x="322.6" y="243.9"/>
<use href="#teb" x="328.8" y="253.5"/>
<use href="#teb" x="362.3" y="229.1"/>
<use href="#teb" x="368.0" y="239.1"/>
<use href="#teb" x="374.0" y="248.7"/>
<use href="#teb" x="408.2" y="239.9"/>
<use href="#teb" x="414.1" y="249.5"/>
<use href="#tet" x="344.6" y="298.5"/>
<use href="#te" x="249.1" y="269.6"/>
<use href="#te" x="294.9" y="264.0"/>
<use href="#te" x="334.6" y="264.8"/>
<use href="#te" x="379.9" y="259.2"/>
<use href="#te" x="420.1" y="260.0"/>
<use href="#te" x="245.9" y="283.3"/>
<use href="#te" x="251.5" y="293.4"/>
<use href="#te" x="257.9" y="303.0"/>
<use href="#te" x="266.0" y="312.2"/>
<use href="#te" x="306.1" y="313.3"/>
<use href="#te" x="351.5" y="307.3"/>
<use href="#te" x="391.6" y="308.1"/>
<use href="#te" x="430.2" y="293.7"/>
</g>
<path d="M297,127V245M302.8,127V245M382.5,124V241M388.6,124V241" stroke="#333" stroke-width="0.8" opacity="0.3"/>
<path d="M567.7,5.1 L480.2,87.9 L552.5,267.8 L640.0,185.0 Z M565.0,15.3 L477.5,98.1 L549.8,278.0 L637.3,195.2 Z M567.7,5.1 L565.0,15.3 M480.2,87.9 L477.5,98.1 M640.0,185.0 L637.3,195.2 M552.5,267.8 L549.8,278.0" stroke="#333" stroke-width="1" fill="none"/>
<g transform="translate(0.0,0.0)">
<clipPath id="cl7"><polygon points="510.8,48.0 551.4,63.0 596.1,53.0 633.9,59.5 669.2,75.0 672.0,84.0 668.5,100.0 665.2,107.4 662.0,118.7 655.1,131.0 610.6,141.0 572.5,134.5 528.4,131.0 486.7,130.0 487.0,115.5 490.0,103.4 497.0,90.0"/></clipPath>
<use href="#te" x="492.3" y="103.4"/>
<use href="#te" x="488.8" y="115.5"/>
<use href="#te" x="665.2" y="107.4"/>
<use href="#te" x="662.0" y="118.7"/>
<polygon points="510.8,48.0 551.4,63.0 596.1,53.0 633.9,59.5 669.2,75.0 672.0,84.0 668.5,100.0 665.2,107.4 662.0,118.7 655.1,131.0 610.6,141.0 572.5,134.5 528.4,131.0 486.7,130.0 487.0,115.5 490.0,103.4 497.0,90.0" fill="#62d34f"/>
<g clip-path="url(#cl7)">
<polygon points="510.8,51.6 551.4,67.0 596.1,56.9 633.9,63.3 669.2,78.5 667.6,89.8 627.1,86.6 585.7,91.7 544.5,90.6 500.3,86.9" fill="#6cd95b"/>
<polygon points="510.8,51.6 551.4,67.0 547.7,78.2" fill="#3ba931" opacity="0.78"/>
<polygon points="510.8,51.6 507.1,63.3 547.7,78.2" fill="#79e168" opacity="0.70"/>
<polygon points="507.1,63.3 547.7,78.2 544.5,90.6" fill="#3ba931" opacity="0.78"/>
<polygon points="507.1,63.3 503.5,74.5 544.5,90.6" fill="#79e168" opacity="0.70"/>
<polygon points="503.5,74.5 500.3,86.9 544.5,90.6" fill="#79e168" opacity="0.70"/>
<polygon points="551.4,67.0 596.1,56.9 592.9,68.9" fill="#3ba931" opacity="0.78"/>
<polygon points="551.4,67.0 547.7,78.2 592.9,68.9" fill="#79e168" opacity="0.70"/>
<polygon points="547.7,78.2 592.9,68.9 589.2,80.1" fill="#3ba931" opacity="0.78"/>
<polygon points="547.7,78.2 544.5,90.6 589.2,80.1" fill="#79e168" opacity="0.70"/>
<polygon points="544.5,90.6 589.2,80.1 585.7,91.7" fill="#3ba931" opacity="0.78"/>
<polygon points="596.1,56.9 633.9,63.3 630.7,74.5" fill="#3ba931" opacity="0.78"/>
<polygon points="596.1,56.9 592.9,68.9 630.7,74.5" fill="#79e168" opacity="0.70"/>
<polygon points="592.9,68.9 630.7,74.5 627.1,86.6" fill="#3ba931" opacity="0.78"/>
<polygon points="592.9,68.9 589.2,80.1 627.1,86.6" fill="#79e168" opacity="0.70"/>
<polygon points="589.2,80.1 585.7,91.7 627.1,86.6" fill="#79e168" opacity="0.70"/>
<polygon points="633.9,63.3 669.2,78.5 667.6,89.8" fill="#3ba931" opacity="0.78"/>
<polygon points="633.9,63.3 630.7,74.5 667.6,89.8" fill="#79e168" opacity="0.70"/>
<polygon points="630.7,74.5 627.1,86.6 667.6,89.8" fill="#79e168" opacity="0.70"/>
<polygon points="500.3,86.9 492.0,103.0 486.7,128.0 500.0,115.0" fill="#4fc341" opacity="0.70"/>
<polygon points="667.6,89.8 665.2,107.4 655.1,129.1 660.0,100.0" fill="#4fc341" opacity="0.60"/>
<polyline points="500.3,86.9 528.4,129.1" fill="none" stroke="#f0fff0" stroke-width="0.8" opacity="0.50"/>
<polyline points="544.5,90.6 528.4,129.1" fill="none" stroke="#f0fff0" stroke-width="0.8" opacity="0.50"/>
<polyline points="544.5,90.6 572.5,132.8" fill="none" stroke="#f0fff0" stroke-width="0.8" opacity="0.50"/>
<polyline points="585.7,91.7 572.5,132.8" fill="none" stroke="#f0fff0" stroke-width="0.8" opacity="0.50"/>
<polyline points="585.7,91.7 610.6,139.2" fill="none" stroke="#f0fff0" stroke-width="0.8" opacity="0.50"/>
<polyline points="627.1,86.6 610.6,139.2" fill="none" stroke="#f0fff0" stroke-width="0.8" opacity="0.50"/>
<polyline points="627.1,86.6 655.1,129.1" fill="none" stroke="#f0fff0" stroke-width="0.8" opacity="0.50"/>
<polyline points="500.3,86.9 486.7,128.0" fill="none" stroke="#f0fff0" stroke-width="0.8" opacity="0.50"/>
</g>
<use href="#tth" x="574.5" y="120.3"/>
<use href="#tth" x="657.2" y="117.1"/>
<use href="#teb" x="510.8" y="51.6"/>
<use href="#teb" x="507.1" y="63.3"/>
<use href="#teb" x="503.5" y="74.5"/>
<use href="#teb" x="551.4" y="67.0"/>
<use href="#teb" x="547.7" y="78.2"/>
<use href="#teb" x="596.1" y="56.9"/>
<use href="#teb" x="592.9" y="68.9"/>
<use href="#teb" x="589.2" y="80.1"/>
<use href="#teb" x="633.9" y="63.3"/>
<use href="#teb" x="630.7" y="74.5"/>
<use href="#teb" x="669.2" y="78.5"/>
<use href="#tet" x="531.6" y="117.9"/>
<use href="#tet" x="614.6" y="127.5"/>
<use href="#v" x="510.8" y="103.9"/>
<use href="#v" x="565.9" y="103.9"/>
<use href="#v" x="600.1" y="109.9"/>
<use href="#v" x="637.4" y="104.2"/>
<use href="#te" x="500.3" y="86.9"/>
<use href="#te" x="544.5" y="90.6"/>
<use href="#te" x="585.7" y="91.7"/>
<use href="#te" x="627.1" y="86.6"/>
<use href="#te" x="667.6" y="89.8"/>
<use href="#te" x="486.7" y="128.0"/>
<use href="#te" x="528.4" y="129.1"/>
<use href="#te" x="572.5" y="132.8"/>
<use href="#te" x="610.6" y="139.2"/>
<use href="#te" x="655.1" y="129.1"/>
</g>
<g transform="translate(0.0,0.0)">
<clipPath id="cl8"><polygon points="508.0,136.5 545.9,142.5 589.7,146.3 631.2,148.3 666.2,154.0 669.0,165.0 665.0,183.0 658.3,200.0 652.5,210.3 648.7,224.5 607.8,229.5 566.4,214.5 523.1,223.5 484.0,217.5 485.0,204.5 487.0,192.8 493.0,180.0"/></clipPath>
<use href="#te" x="487.5" y="192.8"/>
<use href="#te" x="486.1" y="204.5"/>
<use href="#te" x="658.3" y="200.0"/>
<use href="#te" x="652.5" y="210.3"/>
<polygon points="508.0,136.5 545.9,142.5 589.7,146.3 631.2,148.3 666.2,154.0 669.0,165.0 665.0,183.0 658.3,200.0 652.5,210.3 648.7,224.5 607.8,229.5 566.4,214.5 523.1,223.5 484.0,217.5 485.0,204.5 487.0,192.8 493.0,180.0" fill="#62d34f"/>
<g clip-path="url(#cl8)">
<polygon points="508.0,140.2 545.9,146.1 589.7,149.9 631.2,151.9 666.2,157.7 661.2,181.1 624.7,175.3 579.5,184.9 539.2,169.4 497.7,174.4" fill="#6cd95b"/>
<polygon points="508.0,140.2 545.9,146.1 542.4,157.7" fill="#3ba931" opacity="0.78"/>
<polygon points="508.0,140.2 504.5,151.9 542.4,157.7" fill="#79e168" opacity="0.70"/>
<polygon points="504.5,151.9 542.4,157.7 539.2,169.4" fill="#3ba931" opacity="0.78"/>
<polygon points="504.5,151.9 500.7,163.6 539.2,169.4" fill="#79e168" opacity="0.70"/>
<polygon points="500.7,163.6 497.7,174.4 539.2,169.4" fill="#79e168" opacity="0.70"/>
<polygon points="545.9,146.1 589.7,149.9 586.2,161.5" fill="#3ba931" opacity="0.78"/>
<polygon points="545.9,146.1 542.4,157.7 586.2,161.5" fill="#79e168" opacity="0.70"/>
<polygon points="542.4,157.7 586.2,161.5 583.3,173.2" fill="#3ba931" opacity="0.78"/>
<polygon points="542.4,157.7 539.2,169.4 583.3,173.2" fill="#79e168" opacity="0.70"/>
<polygon points="539.2,169.4 583.3,173.2 579.5,184.9" fill="#3ba931" opacity="0.78"/>
<polygon points="589.7,149.9 631.2,151.9 627.7,163.6" fill="#3ba931" opacity="0.78"/>
<polygon points="589.7,149.9 586.2,161.5 627.7,163.6" fill="#79e168" opacity="0.70"/>
<polygon points="586.2,161.5 627.7,163.6 624.7,175.3" fill="#3ba931" opacity="0.78"/>
<polygon points="586.2,161.5 583.3,173.2 624.7,175.3" fill="#79e168" opacity="0.70"/>
<polygon points="583.3,173.2 579.5,184.9 624.7,175.3" fill="#79e168" opacity="0.70"/>
<polygon points="631.2,151.9 666.2,157.7 664.2,169.4" fill="#3ba931" opacity="0.78"/>
<polygon points="631.2,151.9 627.7,163.6 664.2,169.4" fill="#79e168" opacity="0.70"/>
<polygon points="627.7,163.6 664.2,169.4 661.2,181.1" fill="#3ba931" opacity="0.78"/>
<polygon points="627.7,163.6 624.7,175.3 661.2,181.1" fill="#79e168" opacity="0.70"/>
<polygon points="497.7,174.4 487.5,192.8 484.0,216.1 497.0,200.0" fill="#4fc341" opacity="0.70"/>
<polyline points="497.7,174.4 523.1,222.0" fill="none" stroke="#f0fff0" stroke-width="0.8" opacity="0.50"/>
<polyline points="539.2,169.4 523.1,222.0" fill="none" stroke="#f0fff0" stroke-width="0.8" opacity="0.50"/>
<polyline points="539.2,169.4 566.4,213.2" fill="none" stroke="#f0fff0" stroke-width="0.8" opacity="0.50"/>
<polyline points="579.5,184.9 566.4,213.2" fill="none" stroke="#f0fff0" stroke-width="0.8" opacity="0.50"/>
<polyline points="579.5,184.9 607.8,227.8" fill="none" stroke="#f0fff0" stroke-width="0.8" opacity="0.50"/>
<polyline points="624.7,175.3 607.8,227.8" fill="none" stroke="#f0fff0" stroke-width="0.8" opacity="0.50"/>
<polyline points="624.7,175.3 648.7,222.8" fill="none" stroke="#f0fff0" stroke-width="0.8" opacity="0.50"/>
<polyline points="497.7,174.4 484.0,216.1" fill="none" stroke="#f0fff0" stroke-width="0.8" opacity="0.50"/>
</g>
<use href="#tth" x="570.0" y="202.0"/>
<use href="#tth" x="611.0" y="216.0"/>
<use href="#teb" x="508.0" y="140.2"/>
<use href="#teb" x="504.5" y="151.9"/>
<use href="#teb" x="500.7" y="163.6"/>
<use href="#teb" x="545.9" y="146.1"/>
<use href="#teb" x="542.4" y="157.7"/>
<use href="#teb" x="589.7" y="149.9"/>
<use href="#teb" x="586.2" y="161.5"/>
<use href="#teb" x="583.3" y="173.2"/>
<use href="#teb" x="631.2" y="151.9"/>
<use href="#teb" x="627.7" y="163.6"/>
<use href="#teb" x="666.2" y="157.7"/>
<use href="#teb" x="664.2" y="169.4"/>
<use href="#tet" x="526.1" y="211.2"/>
<use href="#v" x="511.5" y="192.8"/>
<use href="#v" x="549.4" y="187.8"/>
<use href="#v" x="600.8" y="197.7"/>
<use href="#v" x="638.8" y="192.8"/>
<use href="#te" x="497.7" y="174.4"/>
<use href="#te" x="539.2" y="169.4"/>
<use href="#te" x="579.5" y="184.9"/>
<use href="#te" x="624.7" y="175.3"/>
<use href="#te" x="661.2" y="181.1"/>
<use href="#te" x="484.0" y="216.1"/>
<use href="#te" x="523.1" y="222.0"/>
<use href="#te" x="566.4" y="213.2"/>
<use href="#te" x="607.8" y="227.8"/>
<use href="#te" x="648.7" y="222.8"/>
</g>
<g transform="translate(0.0,0.0)">
<clipPath id="cl9"><polygon points="501.9,229.0 543.4,230.5 584.6,226.0 625.2,241.0 666.5,242.5 669.0,252.0 664.0,263.0 660.0,275.0 656.5,288.1 653.0,299.8 646.6,312.5 602.3,308.5 561.0,307.5 519.9,312.5 479.1,297.0 479.5,283.4 482.0,271.4 488.0,262.0"/></clipPath>
<use href="#te" x="484.3" y="271.4"/>
<use href="#te" x="481.1" y="283.4"/>
<use href="#te" x="656.5" y="288.1"/>
<use href="#te" x="653.0" y="299.8"/>
<polygon points="501.9,229.0 543.4,230.5 584.6,226.0 625.2,241.0 666.5,242.5 669.0,252.0 664.0,263.0 660.0,275.0 656.5,288.1 653.0,299.8 646.6,312.5 602.3,308.5 561.0,307.5 519.9,312.5 479.1,297.0 479.5,283.4 482.0,271.4 488.0,262.0" fill="#62d34f"/>
<g clip-path="url(#cl9)">
<polygon points="501.9,232.8 543.4,234.1 584.6,229.5 625.2,244.7 666.5,246.3 663.3,258.0 618.8,267.7 574.6,264.0 537.0,257.7 492.0,267.9" fill="#6cd95b"/>
<polygon points="501.9,232.8 543.4,234.1 540.2,245.7" fill="#3ba931" opacity="0.78"/>
<polygon points="501.9,232.8 498.7,244.4 540.2,245.7" fill="#79e168" opacity="0.70"/>
<polygon points="498.7,244.4 540.2,245.7 537.0,257.7" fill="#3ba931" opacity="0.78"/>
<polygon points="498.7,244.4 495.2,256.1 537.0,257.7" fill="#79e168" opacity="0.70"/>
<polygon points="495.2,256.1 492.0,267.9 537.0,257.7" fill="#79e168" opacity="0.70"/>
<polygon points="543.4,234.1 584.6,229.5 581.1,240.7" fill="#3ba931" opacity="0.78"/>
<polygon points="543.4,234.1 540.2,245.7 581.1,240.7" fill="#79e168" opacity="0.70"/>
<polygon points="540.2,245.7 581.1,240.7 577.8,252.3" fill="#3ba931" opacity="0.78"/>
<polygon points="540.2,245.7 537.0,257.7 577.8,252.3" fill="#79e168" opacity="0.70"/>
<polygon points="537.0,257.7 577.8,252.3 574.6,264.0" fill="#3ba931" opacity="0.78"/>
<polygon points="584.6,229.5 625.2,244.7 622.0,256.0" fill="#3ba931" opacity="0.78"/>
<polygon points="584.6,229.5 581.1,240.7 622.0,256.0" fill="#79e168" opacity="0.70"/>
<polygon points="581.1,240.7 622.0,256.0 618.8,267.7" fill="#3ba931" opacity="0.78"/>
<polygon points="581.1,240.7 577.8,252.3 618.8,267.7" fill="#79e168" opacity="0.70"/>
<polygon points="577.8,252.3 574.6,264.0 618.8,267.7" fill="#79e168" opacity="0.70"/>
<polygon points="625.2,244.7 666.5,246.3 663.3,258.0" fill="#3ba931" opacity="0.78"/>
<polygon points="625.2,244.7 622.0,256.0 663.3,258.0" fill="#79e168" opacity="0.70"/>
<polygon points="622.0,256.0 618.8,267.7 663.3,258.0" fill="#79e168" opacity="0.70"/>
<polygon points="492.0,267.9 484.3,271.4 479.1,295.5 490.0,285.0" fill="#4fc341" opacity="0.70"/>
<polyline points="492.0,267.9 519.9,310.7" fill="none" stroke="#f0fff0" stroke-width="0.8" opacity="0.50"/>
<polyline points="537.0,257.7 519.9,310.7" fill="none" stroke="#f0fff0" stroke-width="0.8" opacity="0.50"/>
<polyline points="537.0,257.7 561.0,305.9" fill="none" stroke="#f0fff0" stroke-width="0.8" opacity="0.50"/>
<polyline points="574.6,264.0 561.0,305.9" fill="none" stroke="#f0fff0" stroke-width="0.8" opacity="0.50"/>
<polyline points="574.6,264.0 602.3,306.9" fill="none" stroke="#f0fff0" stroke-width="0.8" opacity="0.50"/>
<polyline points="618.8,267.7 602.3,306.9" fill="none" stroke="#f0fff0" stroke-width="0.8" opacity="0.50"/>
<polyline points="618.8,267.7 646.6,311.0" fill="none" stroke="#f0fff0" stroke-width="0.8" opacity="0.50"/>
<polyline points="492.0,267.9 479.1,295.5" fill="none" stroke="#f0fff0" stroke-width="0.8" opacity="0.50"/>
</g>
<use href="#tth" x="522.8" y="297.9"/>
<use href="#tth" x="563.0" y="292.3"/>
<use href="#teb" x="501.9" y="232.8"/>
<use href="#teb" x="498.7" y="244.4"/>
<use href="#teb" x="495.2" y="256.1"/>
<use href="#teb" x="543.4" y="234.1"/>
<use href="#teb" x="540.2" y="245.7"/>
<use href="#teb" x="584.6" y="229.5"/>
<use href="#teb" x="581.1" y="240.7"/>
<use href="#teb" x="577.8" y="252.3"/>
<use href="#teb" x="625.2" y="244.7"/>
<use href="#teb" x="622.0" y="256.0"/>
<use href="#teb" x="666.5" y="246.3"/>
<use href="#tet" x="524.4" y="299.5"/>
<use href="#tet" x="607.1" y="296.1"/>
<use href="#v" x="513.2" y="280.7"/>
<use href="#v" x="550.9" y="275.4"/>
<use href="#v" x="584.6" y="281.6"/>
<use href="#v" x="639.7" y="280.8"/>
<use href="#te" x="492.0" y="267.9"/>
<use href="#te" x="537.0" y="257.7"/>
<use href="#te" x="574.6" y="264.0"/>
<use href="#te" x="618.8" y="267.7"/>
<use href="#te" x="663.3" y="258.0"/>
<use href="#te" x="479.1" y="295.5"/>
<use href="#te" x="519.9" y="310.7"/>
<use href="#te" x="561.0" y="305.9"/>
<use href="#te" x="602.3" y="306.9"/>
<use href="#te" x="646.6" y="311.0"/>
</g>
<path d="M567.7,5.1 L480.2,87.9 L552.5,267.8 L640.0,185.0 Z M565.0,15.3 L477.5,98.1 L549.8,278.0 L637.3,195.2 Z M567.7,5.1 L565.0,15.3 M480.2,87.9 L477.5,98.1 M640.0,185.0 L637.3,195.2 M552.5,267.8 L549.8,278.0" stroke="#333" stroke-width="0.9" fill="none" opacity="0.3"/>
<text transform="translate(3.4,52.2) scale(0.9,1)" font-size="37.5" font-weight="bold" font-family="&quot;Liberation Sans&quot;, sans-serif">a</text>
<text x="0.7" y="113.6" font-size="26" font-family="&quot;Liberation Sans&quot;, sans-serif">Ti</text>
<path d="M25,104.3H62" stroke="#000" stroke-width="1.6"/>
<text x="5.2" y="170.8" font-size="26" font-family="&quot;Liberation Sans&quot;, sans-serif">Te</text>
<path d="M31.5,131L25.7,149.2" stroke="#000" stroke-width="1.6"/>
<text x="209" y="109.6" font-size="26" font-family="&quot;Liberation Sans&quot;, sans-serif">Mo</text>
<path d="M247,101.3H290.4" stroke="#000" stroke-width="1.6"/>
<text x="448.5" y="113" font-size="26" font-family="&quot;Liberation Sans&quot;, sans-serif">V</text>
<path d="M469.8,103.9H508.7" stroke="#000" stroke-width="1.6"/>
<text x="50.3" y="350.7" font-size="26" font-family="&quot;Liberation Sans&quot;, sans-serif">1T (<tspan font-style="italic">P</tspan>3m1)</text>
<path d="M113.6,329.6H126.6" stroke="#000" stroke-width="1.8"/>
<text x="279.2" y="350.7" font-size="26" font-family="&quot;Liberation Sans&quot;, sans-serif">1T' (<tspan font-style="italic">P</tspan>2<tspan font-size="17" dy="6">1</tspan><tspan dy="-6">/m)</tspan></text>
<text x="505.7" y="350.7" font-size="26" font-family="&quot;Liberation Sans&quot;, sans-serif">1T'' (<tspan font-style="italic">C</tspan>2/m)</text>
<clipPath id="plotclip"><rect x="133" y="405" width="518" height="387.5"/></clipPath><g clip-path="url(#plotclip)">
<path d="M134.1,790.4 L136.6,790.8 L139.1,791.0 L141.6,791.0 L144.1,791.0 L146.6,790.8 L149.1,790.4 L151.6,790.0 L154.1,789.4 L156.6,788.7 L159.1,787.8 L161.6,786.9 L164.1,785.8 L166.6,784.6 L169.1,783.3 L171.6,781.9 L174.1,780.4 L176.6,778.8 L179.1,777.0 L181.6,775.2 L184.1,773.3 L186.6,771.3 L189.1,769.2 L191.6,767.1 L194.1,764.9 L196.6,762.6 L199.1,760.3 L201.6,757.9 L204.1,755.5 L206.6,753.0 L209.1,750.6 L211.6,748.1 L214.1,745.6 L216.6,743.1 L219.1,740.5 L221.6,738.0 L224.1,735.4 L226.6,732.8 L229.1,730.2 L231.6,727.6 L234.1,724.9 L236.6,722.3 L239.1,719.6 L241.6,717.0 L244.1,714.3 L246.6,711.6 L249.1,708.9 L251.6,706.2 L254.1,703.5 L256.6,700.8 L259.1,698.0 L261.6,695.3 L264.1,692.6 L266.6,689.8 L269.1,687.1 L271.6,684.3 L274.1,681.6 L276.6,678.8 L279.1,676.0 L281.6,673.3 L284.1,670.5 L286.6,667.7 L289.1,665.0 L291.6,662.2 L294.1,659.5 L296.6,656.7 L299.1,654.0 L301.6,651.2 L304.1,648.5 L306.6,645.8 L309.1,643.1 L311.6,640.4 L314.1,637.7 L316.6,635.1 L319.1,632.4 L321.6,629.8 L324.1,627.2 L326.6,624.6 L329.1,622.0 L331.6,619.5 L334.1,616.9 L336.6,614.4 L339.1,612.0 L341.6,609.5 L344.1,607.1 L346.6,604.7 L349.1,602.3 L351.6,600.0 L354.1,597.7 L356.6,595.4 L359.1,593.1 L361.6,590.9 L364.1,588.7 L366.6,586.5 L369.1,584.3 L371.6,582.1 L374.1,580.0 L376.6,577.9 L379.1,575.8 L381.6,573.7 L384.1,571.7 L386.6,569.7 L389.1,567.6 L391.6,565.6 L394.1,563.7 L396.6,561.7 L399.1,559.7 L401.6,557.8 L404.1,555.9 L406.6,553.9 L409.1,552.0 L411.6,550.2 L414.1,548.3 L416.6,546.4 L419.1,544.6 L421.6,542.7 L424.1,540.9 L426.6,539.1 L429.1,537.3 L431.6,535.5 L434.1,533.8 L436.6,532.0 L439.1,530.3 L441.6,528.5 L444.1,526.8 L446.6,525.1 L449.1,523.4 L451.6,521.7 L454.1,520.0 L456.6,518.3 L459.1,516.7 L461.6,515.0 L464.1,513.4 L466.6,511.8 L469.1,510.1 L471.6,508.5 L474.1,506.9 L476.6,505.3 L479.1,503.8 L481.6,502.2 L484.1,500.6 L486.6,499.1 L489.1,497.5 L491.6,496.0 L494.1,494.5 L496.6,493.0 L499.1,491.5 L501.6,490.0 L504.1,488.5 L506.6,487.0 L509.1,485.5 L511.6,484.0 L514.1,482.6 L516.6,481.1 L519.1,479.7 L521.6,478.2 L524.1,476.8 L526.6,475.4 L529.1,473.9 L531.6,472.5 L534.1,470.9 L536.6,469.2 L539.1,467.2 L541.6,465.0 L544.1,462.4 L546.6,459.4 L549.1,456.3 L551.6,453.4 L554.1,451.3 L556.6,449.7 L559.1,448.6 L561.6,447.7 L564.1,446.8 L566.6,446.0 L569.1,445.2 L571.6,444.5 L574.1,443.8 L576.6,443.2 L579.1,442.6 L581.6,442.0 L584.1,441.5 L586.6,441.0 L589.1,440.5 L591.6,440.1 L594.1,439.7 L596.6,439.4 L599.1,439.0 L601.6,438.7 L604.1,438.4 L606.6,438.1 L609.1,437.8 L611.6,437.5 L614.1,437.3 L616.6,437.0 L619.1,436.7 L621.6,436.5 L624.1,436.2 L626.6,436.0 L629.1,435.7 L631.6,435.4 L634.1,435.1 L635.9,434.9" fill="none" stroke="#e12a20" stroke-width="4.4" stroke-linecap="round" stroke-linejoin="round"/>
<path d="M132.9,730.3 L135.4,730.5 L137.9,730.6 L140.4,730.6 L142.9,730.6 L145.4,730.5 L147.9,730.4 L150.4,730.2 L152.9,729.9 L155.4,729.6 L157.9,729.3 L160.4,728.9 L162.9,728.5 L165.4,728.0 L167.9,727.5 L170.4,726.9 L172.9,726.3 L175.4,725.7 L177.9,725.0 L180.4,724.3 L182.9,723.5 L185.4,722.8 L187.9,721.9 L190.4,721.1 L192.9,720.2 L195.4,719.3 L197.9,718.4 L200.4,717.4 L202.9,716.4 L205.4,715.4 L207.9,714.3 L210.4,713.3 L212.9,712.2 L215.4,711.1 L217.9,710.0 L220.4,708.8 L222.9,707.7 L225.4,706.5 L227.9,705.3 L230.4,704.1 L232.9,702.9 L235.4,701.7 L237.9,700.5 L240.4,699.3 L242.9,698.0 L245.4,696.8 L247.9,695.5 L250.4,694.3 L252.9,693.1 L255.4,691.8 L257.9,690.6 L260.4,689.3 L262.9,688.1 L265.4,686.8 L267.9,685.6 L270.4,684.3 L272.9,683.0 L275.4,681.8 L277.9,680.5 L280.4,679.3 L282.9,678.0 L285.4,676.8 L287.9,675.5 L290.4,674.2 L292.9,673.0 L295.4,671.7 L297.9,670.5 L300.4,669.2 L302.9,667.9 L305.4,666.7 L307.9,665.4 L310.4,664.1 L312.9,662.9 L315.4,661.6 L317.9,660.3 L320.4,659.1 L322.9,657.8 L325.4,656.5 L327.9,655.3 L330.4,654.0 L332.9,652.7 L335.4,651.5 L337.9,650.2 L340.4,648.9 L342.9,647.7 L345.4,646.4 L347.9,645.1 L350.4,643.8 L352.9,642.6 L355.4,641.3 L357.9,640.0 L360.4,638.8 L362.9,637.5 L365.4,636.2 L367.9,634.9 L370.4,633.7 L372.9,632.4 L375.4,631.1 L377.9,629.9 L380.4,628.6 L382.9,627.3 L385.4,626.1 L387.9,624.8 L390.4,623.5 L392.9,622.3 L395.4,621.0 L397.9,619.7 L400.4,618.5 L402.9,617.2 L405.4,615.9 L407.9,614.7 L410.4,613.4 L412.9,612.1 L415.4,610.9 L417.9,609.6 L420.4,608.3 L422.9,607.1 L425.4,605.8 L427.9,604.6 L430.4,603.3 L432.9,602.1 L435.4,600.8 L437.9,599.6 L440.4,598.3 L442.9,597.1 L445.4,595.8 L447.9,594.6 L450.4,593.3 L452.9,592.1 L455.4,590.8 L457.9,589.6 L460.4,588.4 L462.9,587.1 L465.4,585.9 L467.9,584.7 L470.4,583.4 L472.9,582.2 L475.4,581.0 L477.9,579.8 L480.4,578.5 L482.9,577.3 L485.4,576.1 L487.9,574.9 L490.4,573.7 L492.9,572.5 L495.4,571.3 L497.9,570.1 L500.4,568.9 L502.9,567.7 L505.4,566.5 L507.9,565.3 L510.4,564.1 L512.9,562.9 L515.4,561.7 L517.9,560.6 L520.4,559.4 L522.9,558.2 L525.4,557.1 L527.9,555.9 L530.4,554.7 L532.9,553.6 L535.4,552.4 L537.9,551.3 L540.4,550.1 L542.9,549.0 L545.4,547.8 L547.9,546.7 L550.4,545.6 L552.9,544.4 L555.4,543.3 L557.9,542.2 L560.4,541.1 L562.9,540.0 L565.4,538.9 L567.9,537.8 L570.4,536.7 L572.9,535.6 L575.4,534.5 L577.9,533.4 L580.4,532.3 L582.9,531.2 L585.4,530.2 L587.9,529.1 L590.4,528.0 L592.9,527.0 L595.4,525.9 L597.9,524.9 L600.4,523.8 L602.9,522.8 L605.4,521.8 L607.9,520.7 L610.4,519.7 L612.9,518.7 L615.4,517.7 L617.9,516.7 L620.4,515.7 L622.9,514.7 L625.4,513.7 L627.9,512.7 L630.4,511.7 L632.9,510.7 L635.4,509.8 L635.6,509.7" fill="none" stroke="#3a46a8" stroke-width="5.8" stroke-linecap="round" stroke-linejoin="round"/>
<path d="M133.5,780.8 L136.0,780.9 L138.5,780.9 L141.0,780.9 L143.5,780.8 L146.0,780.8 L148.5,780.7 L151.0,780.6 L153.5,780.4 L156.0,780.2 L158.5,780.0 L161.0,779.8 L163.5,779.5 L166.0,779.2 L168.5,778.9 L171.0,778.5 L173.5,778.2 L176.0,777.8 L178.5,777.3 L181.0,776.9 L183.5,776.4 L186.0,775.8 L188.5,775.3 L191.0,774.7 L193.5,774.1 L196.0,773.5 L198.5,772.8 L201.0,772.1 L203.5,771.4 L206.0,770.7 L208.5,769.9 L211.0,769.1 L213.5,768.3 L216.0,767.4 L218.5,766.6 L221.0,765.7 L223.5,764.8 L226.0,763.9 L228.5,762.9 L231.0,761.9 L233.5,761.0 L236.0,760.0 L238.5,759.0 L241.0,757.9 L243.5,756.9 L246.0,755.8 L248.5,754.8 L251.0,753.7 L253.5,752.6 L256.0,751.5 L258.5,750.4 L261.0,749.3 L263.5,748.2 L266.0,747.0 L268.5,745.9 L271.0,744.8 L273.5,743.6 L276.0,742.5 L278.5,741.3 L281.0,740.2 L283.5,739.0 L286.0,737.9 L288.5,736.7 L291.0,735.5 L293.5,734.4 L296.0,733.2 L298.5,732.1 L301.0,730.9 L303.5,729.8 L306.0,728.6 L308.5,727.5 L311.0,726.3 L313.5,725.2 L316.0,724.1 L318.5,723.0 L321.0,721.8 L323.5,720.7 L326.0,719.6 L328.5,718.5 L331.0,717.4 L333.5,716.3 L336.0,715.3 L338.5,714.2 L341.0,713.1 L343.5,712.0 L346.0,711.0 L348.5,709.9 L351.0,708.8 L353.5,707.8 L356.0,706.7 L358.5,705.6 L361.0,704.6 L363.5,703.5 L366.0,702.5 L368.5,701.4 L371.0,700.3 L373.5,699.3 L376.0,698.2 L378.5,697.1 L381.0,696.1 L383.5,695.0 L386.0,693.9 L388.5,692.8 L391.0,691.8 L393.5,690.7 L396.0,689.6 L398.5,688.5 L401.0,687.5 L403.5,686.4 L406.0,685.3 L408.5,684.2 L411.0,683.2 L413.5,682.1 L416.0,681.0 L418.5,680.0 L421.0,678.9 L423.5,677.9 L426.0,676.8 L428.5,675.8 L431.0,674.7 L433.5,673.7 L436.0,672.6 L438.5,671.6 L441.0,670.5 L443.5,669.5 L446.0,668.5 L448.5,667.4 L451.0,666.4 L453.5,665.4 L456.0,664.4 L458.5,663.4 L461.0,662.4 L463.5,661.3 L466.0,660.3 L468.5,659.3 L471.0,658.3 L473.5,657.3 L476.0,656.3 L478.5,655.3 L481.0,654.3 L483.5,653.4 L486.0,652.4 L488.5,651.4 L491.0,650.4 L493.5,649.4 L496.0,648.4 L498.5,647.5 L501.0,646.5 L503.5,645.5 L506.0,644.5 L508.5,643.6 L511.0,642.6 L513.5,641.6 L516.0,640.7 L518.5,639.7 L521.0,638.7 L523.5,637.8 L526.0,636.8 L528.5,635.8 L531.0,634.9 L533.5,633.9 L536.0,632.9 L538.5,632.0 L541.0,631.0 L543.5,630.1 L546.0,629.1 L548.5,628.1 L551.0,627.2 L553.5,626.2 L556.0,625.2 L558.5,624.2 L561.0,623.3 L563.5,622.3 L566.0,621.3 L568.5,620.3 L571.0,619.3 L573.5,618.3 L576.0,617.3 L578.5,616.3 L581.0,615.3 L583.5,614.3 L586.0,613.3 L588.5,612.2 L591.0,611.2 L593.5,610.2 L596.0,609.2 L598.5,608.2 L601.0,607.2 L603.5,606.2 L606.0,605.2 L608.5,604.2 L611.0,603.3 L613.5,602.4 L616.0,601.4 L618.5,600.6 L621.0,599.7 L623.5,598.9 L626.0,598.1 L628.5,597.4 L631.0,596.7 L633.5,596.0 L635.0,595.7" fill="none" stroke="#000" stroke-width="5.8" stroke-linecap="round" stroke-linejoin="round"/>
<circle cx="179.6" cy="780.0" r="3.3" fill="#000"/>
<circle cx="185.8" cy="780.8" r="3.3" fill="#000"/>
<circle cx="176.0" cy="778.5" r="3.0" fill="#000"/>
<circle cx="230.0" cy="762.6" r="3.6" fill="#000"/>
<circle cx="237.0" cy="760.2" r="3.6" fill="#000"/>
<circle cx="244.0" cy="757.5" r="3.4" fill="#000"/>
<circle cx="278.4" cy="742.6" r="4.6" fill="#000"/>
<circle cx="281.5" cy="741.8" r="4.2" fill="#000"/>
<circle cx="258.5" cy="750.2" r="3.3" fill="#000"/>
<circle cx="424.0" cy="677.8" r="3.3" fill="#000"/>
<circle cx="603.5" cy="605.5" r="3.1" fill="#000"/>
</g>
<rect x="132.6" y="404.2" width="519.4" height="387.8" fill="none" stroke="#000" stroke-width="2.2"/>
<path d="M216.3,792V783.5 M216.3,404.2V412.7 M300.0,792V776.0 M300.0,404.2V420.2 M383.7,792V783.5 M383.7,404.2V412.7 M467.4,792V776.0 M467.4,404.2V420.2 M551.1,792V783.5 M551.1,404.2V412.7 M634.8,792V776.0 M634.8,404.2V420.2 M132.6,736.6H148.6 M652,736.6H634.8 M132.6,681.2H148.6 M652,681.2H634.8 M132.6,625.8H148.6 M652,625.8H634.8 M132.6,570.4H148.6 M652,570.4H634.8 M132.6,515.0H148.6 M652,515.0H634.8 M132.6,459.6H148.6 M652,459.6H634.8" stroke="#000" stroke-width="2" fill="none"/>
<text x="123.3" y="802.9" text-anchor="end" font-size="32.2" font-family="&quot;Liberation Sans&quot;, sans-serif">0</text>
<text x="123.3" y="747.5" text-anchor="end" font-size="32.2" font-family="&quot;Liberation Sans&quot;, sans-serif">50</text>
<text x="123.3" y="692.1" text-anchor="end" font-size="32.2" font-family="&quot;Liberation Sans&quot;, sans-serif">100</text>
<text x="123.3" y="636.7" text-anchor="end" font-size="32.2" font-family="&quot;Liberation Sans&quot;, sans-serif">150</text>
<text x="123.3" y="581.3" text-anchor="end" font-size="32.2" font-family="&quot;Liberation Sans&quot;, sans-serif">200</text>
<text x="123.3" y="525.9" text-anchor="end" font-size="32.2" font-family="&quot;Liberation Sans&quot;, sans-serif">250</text>
<text x="123.3" y="470.5" text-anchor="end" font-size="32.2" font-family="&quot;Liberation Sans&quot;, sans-serif">300</text>
<text x="123.3" y="415.1" text-anchor="end" font-size="32.2" font-family="&quot;Liberation Sans&quot;, sans-serif">350</text>
<text x="133.1" y="831.7" text-anchor="middle" font-size="32.2" font-family="&quot;Liberation Sans&quot;, sans-serif">0</text>
<text x="300.5" y="831.7" text-anchor="middle" font-size="32.2" font-family="&quot;Liberation Sans&quot;, sans-serif">100</text>
<text x="467.9" y="831.7" text-anchor="middle" font-size="32.2" font-family="&quot;Liberation Sans&quot;, sans-serif">200</text>
<text x="635.3" y="831.7" text-anchor="middle" font-size="32.2" font-family="&quot;Liberation Sans&quot;, sans-serif">300</text>
<text x="391.5" y="869" text-anchor="middle" font-size="31" font-family="&quot;Liberation Sans&quot;, sans-serif"><tspan font-style="italic">T</tspan> (K)</text>
<text transform="translate(45.9,597.2) rotate(-90)" text-anchor="middle" font-size="31.7" font-family="&quot;Liberation Sans&quot;, sans-serif">ρ (μΩcm)</text>
<text x="567.6" y="475.3" font-size="26" fill="#e12a20" font-family="&quot;Liberation Sans&quot;, sans-serif">MoTe<tspan font-size="17" dy="8.6">2</tspan></text>
<text x="569.8" y="562.6" font-size="26" fill="#3a46a8" font-family="&quot;Liberation Sans&quot;, sans-serif">VTe<tspan font-size="17" dy="8.6">2</tspan></text>
<text x="576" y="647.9" font-size="26" fill="#000" font-family="&quot;Liberation Sans&quot;, sans-serif">TiTe<tspan font-size="17" dy="8.6">2</tspan></text>
<text x="3.5" y="415.5" font-size="36" font-weight="bold" font-family="&quot;Liberation Sans&quot;, sans-serif">b</text>
</svg>
</body></html>
